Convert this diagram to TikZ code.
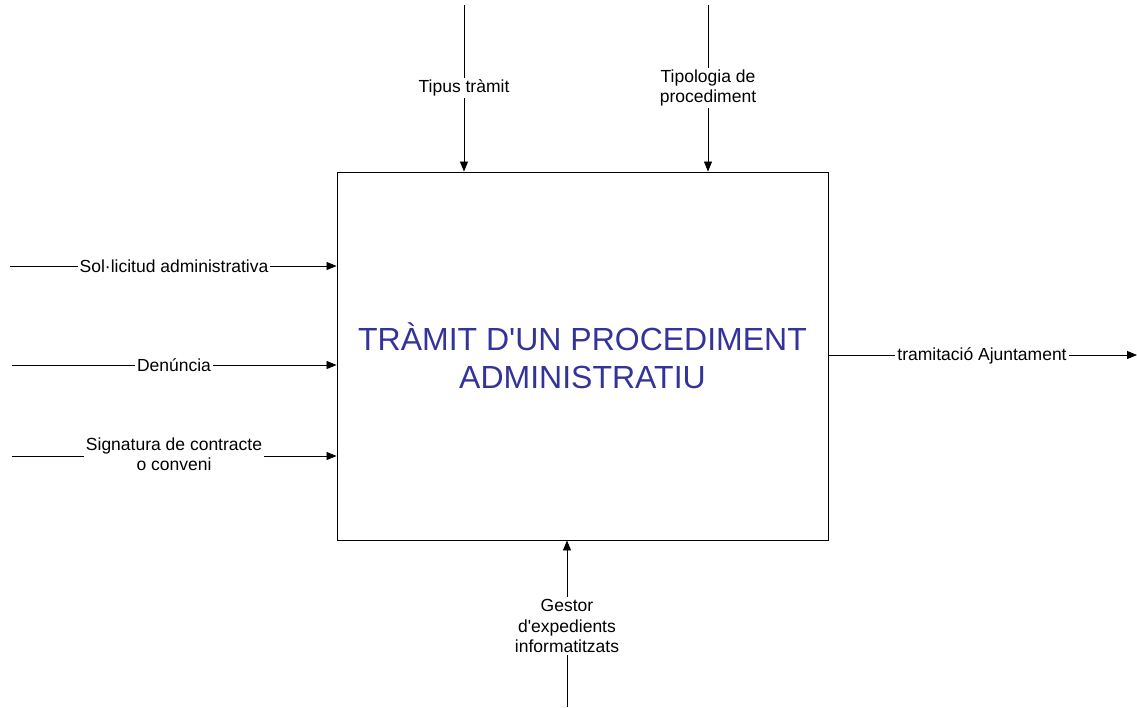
\documentclass[tikz,border=0pt]{standalone}
\usepackage{fontspec}
\setmainfont{Liberation Sans}
\usetikzlibrary{arrows.meta}
\definecolor{titleblue}{HTML}{333399}
\tikzset{
  conn/.style={draw=black, line width=0.8pt, -{Triangle[length=10pt,width=8pt]}},
  lbl/.style={fill=white, inner sep=2pt, align=center, font=\fontsize{17.5}{20.5}\selectfont, text=black},
  act/.style={draw=black, line width=0.9pt, minimum width=491pt, minimum height=368pt, inner sep=0pt, align=center, text=titleblue, font=\fontsize{32}{38}\selectfont}
}
\begin{document}
\begin{tikzpicture}[x=1pt,y=-1pt]
\useasboundingbox (0,0) rectangle (1137,707);
\node[act] (box) at (582.5,356) {TRÀMIT D\textquotesingle UN PROCEDIMENT\\ADMINISTRATIU};
% coordinates
\coordinate (i1) at (10,266);
\coordinate (i2) at (12,365);
\coordinate (i3) at (12,456);
\coordinate (o1) at (1137,355);
\coordinate (c1) at (464,5);
\coordinate (c2) at (708,5);
\coordinate (m1) at (567,707);
% connectors
\draw[conn] (i1) -- (box.west |- i1);
\draw[conn] (i2) -- (box.west |- i2);
\draw[conn] (i3) -- (box.west |- i3);
\draw[conn] (box.east |- o1) -- (o1);
\draw[conn] (c1) -- (box.north -| c1);
\draw[conn] (c2) -- (box.north -| c2);
\draw[conn] (m1) -- (box.south -| m1);
% labels
\node[lbl] (l1) at (174,266) {Sol·licitud administrativa};
\node[lbl] (l2) at (174,365) {Denúncia};
\node[lbl] (l3) at (174,454) {Signatura de contracte\\o conveni};
\node[lbl] (l4) at (982,356) {tramitació Ajuntament};
\node[lbl] (l5) at (464,88) {Tipus tràmit};
\node[lbl] (l6) at (708,88) {Tipologia de\\procediment};
\node[lbl] (l7) at (567,626) {Gestor\\d\textquotesingle expedients\\informatitzats};
\end{tikzpicture}
\end{document}
